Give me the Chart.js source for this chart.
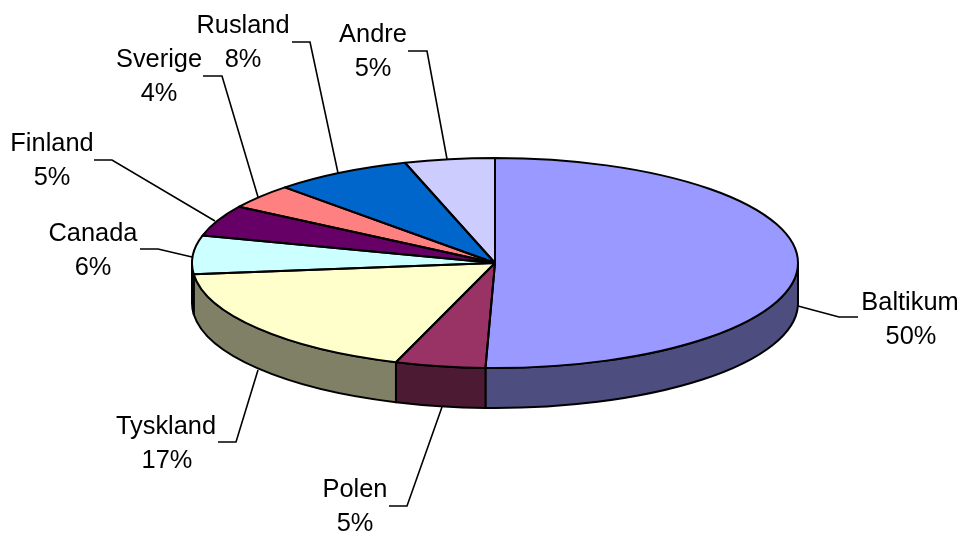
<!DOCTYPE html>
<html>
<head>
<meta charset="utf-8">
<style>html,body{margin:0;padding:0;background:#fff}canvas{display:block}</style>
<script src="https://cdn.jsdelivr.net/npm/chart.js@4"></script>
</head>
<body>
<canvas id="c" width="960" height="533"></canvas>
<script>
// Data
const categories = ['Baltikum','Polen','Tyskland','Canada','Finland','Sverige','Rusland','Andre'];
const percentLabels = ['50%','5%','17%','6%','5%','4%','8%','5%'];
const sliceValues = [50.5,4.8,18.0,5.9,4.8,3.8,7.4,4.8];
const topColors = ['#9999FF','#993366','#FFFFCC','#CCFFFF','#660066','#FF8080','#0066CC','#CCCCFF'];
const wallColors = ['#4D4D80','#4D1A33','#808066','#808066','#330033','#804040','#003366','#666680'];

// Label placement: [centre x, first line centre y, second line centre x]
const labelPos = [[910,303,911],[355,490,355],[166,427,167],[93,234,93],[52,144,52],[159,60,159],[243,26,243],[373,35,373]];
const leaderLines = [
  [[858,317],[839,317],[798,306]],
  [[389,506],[407,506],[442,407]],
  [[218,442],[236,442],[258,370]],
  [[140,249],[158,249],[192,257]],
  [[94,160],[112,160],[215,221]],
  [[203,76],[222,76],[258,197]],
  [[292,42],[310,42],[338,173]],
  [[408,51],[427,51],[447,159]]
];
const RX = 303, RY = 105, DEPTH = 40, EDGE = 2, LINE_GAP = 33.5;

const pie3d = {
  id: 'pie3d',
  beforeDatasetDraw(chart) {
    const ctx = chart.ctx, arcs = chart.getDatasetMeta(0).data;
    const {x: cx, y: cy, outerRadius: r} = arcs[0];
    // side walls
    ctx.save();
    ctx.lineWidth = EDGE; ctx.strokeStyle = '#000'; ctx.lineJoin = 'round';
    arcs.forEach((a, i) => {
      const s = Math.max(a.startAngle, 0), e = Math.min(a.endAngle, Math.PI);
      if (e <= s) return;
      ctx.beginPath();
      ctx.ellipse(cx, cy, RX, RY, 0, s, e);
      ctx.ellipse(cx, cy + DEPTH, RX, RY, 0, e, s, true);
      ctx.closePath();
      ctx.fillStyle = wallColors[i];
      ctx.fill(); ctx.stroke();
    });
    ctx.restore();
    // the library draws the top face, flattened into an ellipse
    ctx.save();
    ctx.translate(cx, cy);
    ctx.scale(RX / r, RY / r);
    ctx.translate(-cx, -cy);
  },
  afterDatasetDraw(chart) {
    const ctx = chart.ctx, arcs = chart.getDatasetMeta(0).data;
    const {x: cx, y: cy} = arcs[0];
    ctx.restore();
    ctx.save();
    ctx.lineWidth = EDGE; ctx.strokeStyle = '#000'; ctx.lineJoin = 'round';
    arcs.forEach(a => {
      ctx.beginPath();
      ctx.moveTo(cx, cy);
      ctx.ellipse(cx, cy, RX, RY, 0, a.startAngle, a.endAngle);
      ctx.closePath();
      ctx.stroke();
    });
    // leader lines
    ctx.lineWidth = 1.6; ctx.lineJoin = 'miter';
    leaderLines.forEach(pts => {
      ctx.beginPath();
      pts.forEach((p, k) => k ? ctx.lineTo(p[0], p[1]) : ctx.moveTo(p[0], p[1]));
      ctx.stroke();
    });
    // labels
    ctx.fillStyle = '#000';
    ctx.font = '25.4px "Liberation Sans", Arial, sans-serif';
    ctx.textAlign = 'center'; ctx.textBaseline = 'middle';
    categories.forEach((name, i) => {
      const [x, y, x2] = labelPos[i];
      ctx.fillText(name, x, y);
      ctx.fillText(percentLabels[i], x2, y + LINE_GAP);
    });
    ctx.restore();
  }
};

new Chart(document.getElementById('c'), {
  type: 'pie',
  data: {
    labels: categories,
    datasets: [{ data: sliceValues, backgroundColor: topColors, borderWidth: 0 }]
  },
  options: {
    responsive: false,
    animation: false,
    layout: { padding: { left: 30, bottom: 7 } },
    plugins: { legend: { display: false }, tooltip: { enabled: false } }
  },
  plugins: [pie3d]
});
</script>
</body>
</html>
